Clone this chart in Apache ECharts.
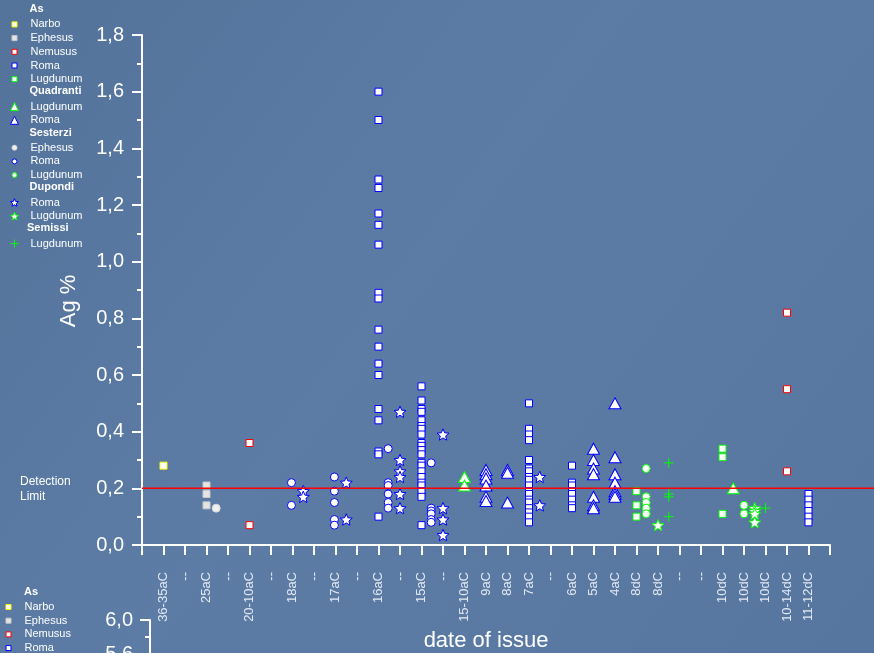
<!DOCTYPE html>
<html>
<head>
<meta charset="utf-8">
<title>Ag % by date of issue</title>
<script src="https://cdn.jsdelivr.net/npm/echarts@6/dist/echarts.min.js"></script>
<style>
  html, body { margin: 0; padding: 0; width: 874px; height: 653px; overflow: hidden; background: #5877a0; }
  #chart { width: 874px; height: 653px; }
</style>
</head>
<body>
<div id="chart"></div>
<script>
// Tick k of the date axis carries dateLabels[k]; mark x values use the same units.
const dateLabels = ['', '36-35aC', '--', '25aC', '--', '20-10aC', '--', '18aC', '--', '17aC', '--',
  '16aC', '--', '15aC', '--', '15-10aC', '9aC', '8aC', '7aC', '--', '6aC', '5aC', '4aC',
  '8dC', '8dC', '--', '--', '10dC', '10dC', '10dC', '10-14dC', '11-12dC', ''];

const detectionLimit = 0.2;

// As
const asNarbo = [[1, 0.28]];
const asEphesus = [[3, 0.21], [3, 0.18], [3, 0.14]];
const asNemusus = [[5, 0.36], [5, 0.07], [30, 0.82], [30, 0.55], [30, 0.26]];
const asRoma = [
  [11, 1.60], [11, 1.50], [11, 1.29], [11, 1.26], [11, 1.17], [11, 1.13], [11, 1.06], [11, 0.89],
  [11, 0.87], [11, 0.76], [11, 0.70], [11, 0.64], [11, 0.60], [11, 0.48], [11, 0.44], [11, 0.33],
  [11, 0.32], [11, 0.10],
  [13, 0.56], [13, 0.51], [13, 0.48], [13, 0.47], [13, 0.44], [13, 0.42], [13, 0.41], [13, 0.39],
  [13, 0.36], [13, 0.35], [13, 0.335], [13, 0.32], [13, 0.29], [13, 0.28], [13, 0.26], [13, 0.24],
  [13, 0.22], [13, 0.21], [13, 0.19], [13, 0.17], [13, 0.07],
  [18, 0.50], [18, 0.41], [18, 0.39], [18, 0.37], [18, 0.30], [18, 0.27], [18, 0.26], [18, 0.24],
  [18, 0.23], [18, 0.21], [18, 0.19], [18, 0.18], [18, 0.16], [18, 0.15], [18, 0.13], [18, 0.115],
  [18, 0.10], [18, 0.08],
  [20, 0.28], [20, 0.22], [20, 0.21], [20, 0.19], [20, 0.18], [20, 0.16], [20, 0.14], [20, 0.13],
  [31, 0.18], [31, 0.16], [31, 0.14], [31, 0.12], [31, 0.10], [31, 0.08]
];
const asLugdunum = [[23, 0.19], [23, 0.14], [23, 0.10], [27, 0.34], [27, 0.31], [27, 0.11]];

// Quadranti
const quadLugdunum = [[15, 0.24], [15, 0.21], [27.5, 0.20]];
const quadRoma = [
  [16, 0.265], [16, 0.25], [16, 0.235], [16, 0.21], [16, 0.17], [16, 0.155],
  [17, 0.265], [17, 0.255], [17, 0.15],
  [21, 0.34], [21, 0.30], [21, 0.27], [21, 0.25], [21, 0.17], [21, 0.14], [21, 0.13],
  [22, 0.50], [22, 0.31], [22, 0.25], [22, 0.22], [22, 0.19], [22, 0.18], [22, 0.17]
];

// Sesterzi
const sestEphesus = [[3.45, 0.13]];
const sestRoma = [
  [6.95, 0.22], [6.95, 0.14],
  [8.95, 0.24], [8.95, 0.19], [8.95, 0.15], [8.95, 0.09], [8.95, 0.07],
  [11.45, 0.34], [11.45, 0.22], [11.45, 0.21], [11.45, 0.18], [11.45, 0.15], [11.45, 0.13],
  [13.45, 0.29], [13.45, 0.13], [13.45, 0.12], [13.45, 0.11], [13.45, 0.09], [13.45, 0.08]
];
const sestLugdunum = [[23.45, 0.27], [23.45, 0.17], [23.45, 0.15], [23.45, 0.13], [23.45, 0.11],
  [28, 0.14], [28, 0.11]];

// Dupondi
const dupRoma = [
  [7.5, 0.19], [7.5, 0.17],
  [9.5, 0.22], [9.5, 0.09],
  [12, 0.47], [12, 0.30], [12, 0.26], [12, 0.24], [12, 0.18], [12, 0.13],
  [14, 0.39], [14, 0.13], [14, 0.09], [14, 0.035],
  [18.5, 0.24], [18.5, 0.14]
];
const dupLugdunum = [[24, 0.07], [28.5, 0.13], [28.5, 0.12], [28.5, 0.11], [28.5, 0.08]];

// Semissi
const semLugdunum = [[24.5, 0.29], [24.5, 0.18], [24.5, 0.17], [24.5, 0.10], [29, 0.13]];

const legendGroups = [
  { header: 'As', icon: 5, entries: [['asNarbo', 'Narbo'], ['asEphesus', 'Ephesus'], ['asNemusus', 'Nemusus'], ['asRoma', 'Roma'], ['asLugdunum', 'Lugdunum']] },
  { header: 'Quadranti', icon: 8, entries: [['quadLugdunum', 'Lugdunum'], ['quadRoma', 'Roma']] },
  { header: 'Sesterzi', icon: 5, entries: [['sestEphesus', 'Ephesus'], ['sestRoma', 'Roma'], ['sestLugdunum', 'Lugdunum']] },
  { header: 'Dupondi', icon: 8, entries: [['dupRoma', 'Roma'], ['dupLugdunum', 'Lugdunum']] },
  { header: 'Semissi', icon: 8, entries: [['semLugdunum', 'Lugdunum']] }
];

// ---- drawing ----
const FONT = '"Liberation Sans", Arial, Helvetica, sans-serif';
const BLUE = '#0000ff', GREEN = '#00ff00', RED = '#ff0000', YELLOW = '#ffff00';
const STAR = 'path://M10,0L12.65,6.36L19.51,6.91L14.28,11.39L15.88,18.09L10,14.5L4.12,18.09L5.72,11.39L0.49,6.91L7.35,6.36Z';
const PLUS = 'path://M5,0L5,10M0,5L10,5';

const markStyles = {
  asNarbo:      { data: asNarbo,      symbol: 'rect',     size: 7,        fill: '#ffffff', stroke: YELLOW },
  asEphesus:    { data: asEphesus,    symbol: 'rect',     size: 7,        fill: '#e4e4e4', stroke: '#c8c8c8' },
  asNemusus:    { data: asNemusus,    symbol: 'rect',     size: 7,        fill: '#ffffff', stroke: RED },
  asRoma:       { data: asRoma,       symbol: 'rect',     size: 7,        fill: '#ffffff', stroke: BLUE },
  asLugdunum:   { data: asLugdunum,   symbol: 'rect',     size: 7,        fill: '#ffffff', stroke: GREEN },
  quadLugdunum: { data: quadLugdunum, symbol: 'triangle', size: [12, 11], fill: '#ffffff', stroke: GREEN },
  quadRoma:     { data: quadRoma,     symbol: 'triangle', size: [12, 11], fill: '#ffffff', stroke: BLUE },
  sestEphesus:  { data: sestEphesus,  symbol: 'circle',   size: 8,        fill: '#f0f0f0', stroke: '#d6d6d6' },
  sestRoma:     { data: sestRoma,     symbol: 'circle',   size: 8,        fill: '#ffffff', stroke: BLUE },
  sestLugdunum: { data: sestLugdunum, symbol: 'circle',   size: 8,        fill: '#ffffff', stroke: GREEN },
  dupRoma:      { data: dupRoma,      symbol: STAR,       size: 12,       fill: '#ffffff', stroke: BLUE },
  dupLugdunum:  { data: dupLugdunum,  symbol: STAR,       size: 12,       fill: '#ffffff', stroke: GREEN },
  semLugdunum:  { data: semLugdunum,  symbol: PLUS,       size: 10,       fill: 'rgba(0,0,0,0)', stroke: GREEN }
};

const labelOf = {};
legendGroups.forEach(g => g.entries.forEach(e => { labelOf[e[0]] = e[1]; }));

const ROW = 13.7;
const textWhite = '#ffffff';

function legendBlock(names, firstCenterY, size, markX, textX) {
  return {
    orient: 'vertical',
    left: markX - size / 2,
    top: firstCenterY - ROW / 2,
    height: 200,
    padding: 0,
    itemGap: 0,
    itemWidth: size,
    itemHeight: size,
    selectedMode: false,
    data: names,
    formatter: name => labelOf[name],
    itemStyle: { borderWidth: 1 },
    textStyle: {
      color: textWhite, fontSize: 11, fontFamily: FONT, lineHeight: ROW,
      padding: [0, 0, 0, textX - markX - size / 2 - 5]
    }
  };
}

const legends = [];
const headers = [];
let row = 0;
const TOP_Y0 = 10.7;
legendGroups.forEach(g => {
  headers.push({ text: g.header, x: g.header === 'Semissi' ? 27 : 29.5, y: TOP_Y0 + ROW * row });
  row += 1;
  legends.push(legendBlock(g.entries.map(e => e[0]), TOP_Y0 + ROW * row, g.icon, 14, 30));
  row += g.entries.length;
});
// Repeated key of the lower panel
const LOW_Y0 = 593.3;
headers.push({ text: 'As', x: 24, y: LOW_Y0 });
legends.push(legendBlock(legendGroups[0].entries.slice(0, 4).map(e => e[0]), LOW_Y0 + ROW, 5, 8, 24));

const commaFmt = v => v.toFixed(1).replace('.', ',');
const axisLine = { show: true, lineStyle: { color: textWhite, width: 2 } };

const scatterSeries = Object.keys(markStyles).map(key => {
  const s = markStyles[key];
  return {
    name: key,
    type: 'scatter',
    xAxisIndex: 0, yAxisIndex: 0,
    data: s.data,
    symbol: s.symbol,
    symbolSize: s.size,
    symbolKeepAspect: true,
    itemStyle: { color: s.fill, borderColor: s.stroke, borderWidth: 1, opacity: 1 },
    emphasis: { disabled: true },
    z: 3
  };
});

const option = {
  animation: false,
  backgroundColor: {
    type: 'linear', x: 0, y: 0, x2: 1, y2: 1,
    colorStops: [
      { offset: 0, color: '#54739b' },
      { offset: 0.45, color: '#5c7ca6' },
      { offset: 1, color: '#57769f' }
    ]
  },
  textStyle: { fontFamily: FONT },
  legend: legends,
  grid: [
    { left: 142, top: 35, right: 44, bottom: 108, outerBoundsMode: 'none', containLabel: false },
    { left: 142, top: 35, right: 0, bottom: 108, outerBoundsMode: 'none', containLabel: false },
    { left: 150, top: 620, width: 600, height: 510, outerBoundsMode: 'none', containLabel: false }
  ],
  xAxis: [
    {
      gridIndex: 0, type: 'value', min: 0, max: dateLabels.length - 1, interval: 1,
      name: 'date of issue', nameLocation: 'middle', nameGap: 79,
      nameTextStyle: { color: textWhite, fontSize: 22, fontFamily: FONT },
      axisLine: axisLine,
      axisTick: { show: true, length: 10, lineStyle: { color: textWhite, width: 2 } },
      axisLabel: {
        rotate: 90, margin: 27, fontSize: 13, color: '#e4eaf2', fontFamily: FONT,
        formatter: v => dateLabels[Math.round(v)] || ''
      },
      splitLine: { show: false }
    },
    { gridIndex: 1, type: 'value', min: 0, max: 1, show: false },
    { gridIndex: 2, type: 'value', min: 0, max: 1, show: false }
  ],
  yAxis: [
    {
      gridIndex: 0, type: 'value', min: 0, max: 1.8, interval: 0.2,
      name: 'Ag %', nameLocation: 'middle', nameGap: 62,
      nameTextStyle: { color: textWhite, fontSize: 22, fontFamily: FONT, padding: [0, 22, 0, 0] },
      axisLine: axisLine,
      axisTick: { show: true, length: 10, lineStyle: { color: textWhite, width: 2 } },
      minorTick: { show: true, splitNumber: 2, length: 5, lineStyle: { color: textWhite, width: 2 } },
      axisLabel: { margin: 18, fontSize: 20, color: textWhite, fontFamily: FONT, formatter: commaFmt },
      splitLine: { show: false }
    },
    { gridIndex: 1, type: 'value', min: 0, max: 1.8, show: false },
    {
      gridIndex: 2, type: 'value', min: 0, max: 6, interval: 0.4,
      axisLine: axisLine,
      axisTick: { show: true, length: 10, lineStyle: { color: textWhite, width: 2 } },
      minorTick: { show: true, splitNumber: 2, length: 5, lineStyle: { color: textWhite, width: 2 } },
      axisLabel: { margin: 17, fontSize: 20, color: textWhite, fontFamily: FONT, formatter: commaFmt },
      splitLine: { show: false }
    }
  ],
  graphic: headers.map(h => ({
    type: 'text', left: h.x, top: h.y - 7,
    style: { text: h.text, fill: textWhite, font: 'bold 11px ' + FONT }
  })).concat([{
    type: 'text', left: 20, top: 474,
    style: { text: 'Detection\nLimit', fill: textWhite, font: '12px ' + FONT, lineHeight: 15 }
  }]),
  series: scatterSeries.concat([{
    type: 'line',
    xAxisIndex: 1, yAxisIndex: 1,
    data: [[0, detectionLimit], [1, detectionLimit]],
    symbol: 'none',
    silent: true,
    lineStyle: { color: RED, width: 1.5 },
    z: 5
  }])
};

const chart = echarts.init(document.getElementById('chart'), null, { renderer: 'canvas' });
chart.setOption(option);
</script>
</body>
</html>
